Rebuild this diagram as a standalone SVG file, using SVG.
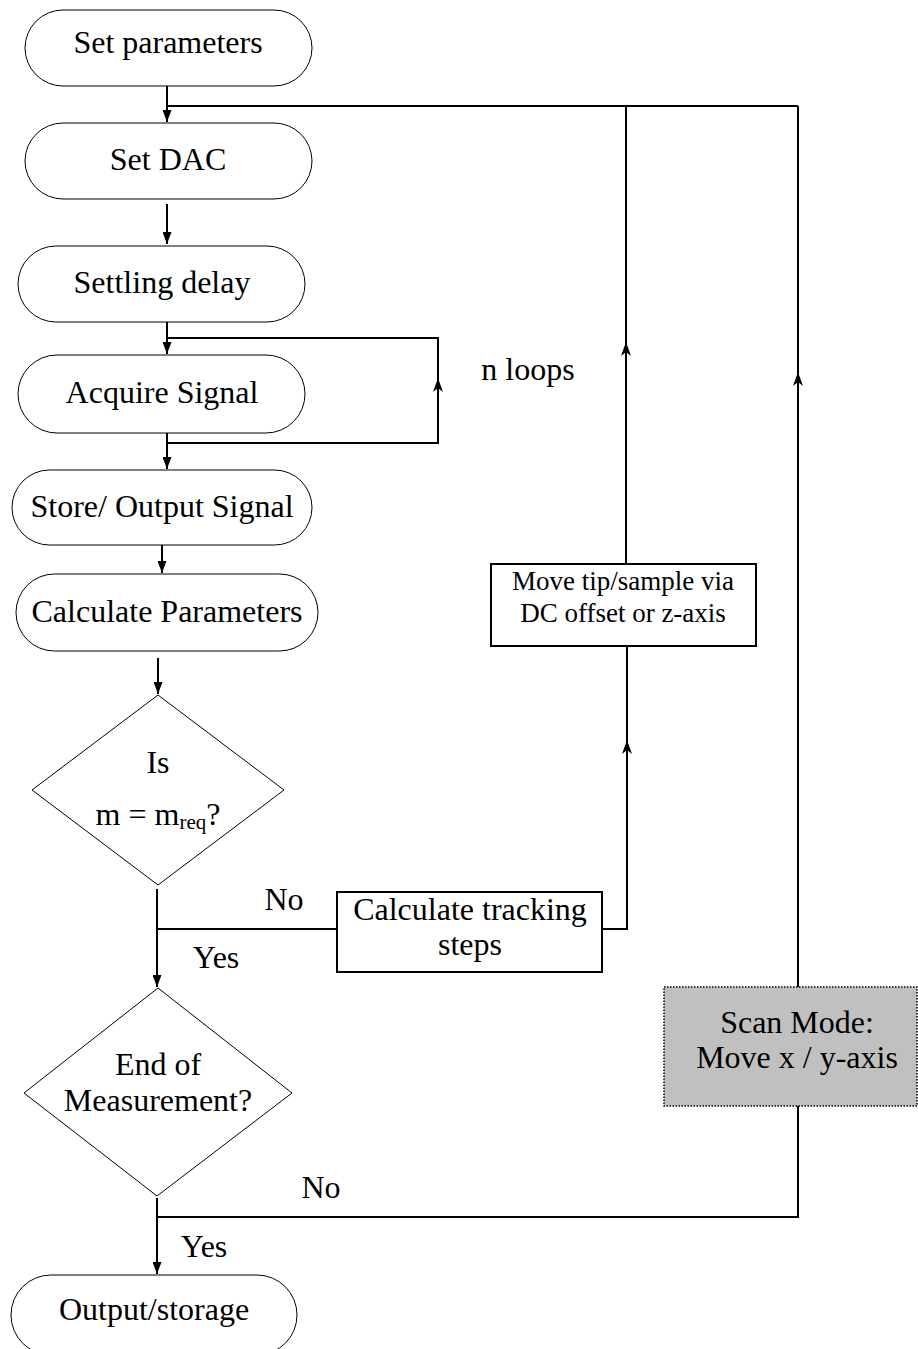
<svg xmlns="http://www.w3.org/2000/svg" width="918" height="1349" viewBox="0 0 918 1349">
<style>
text{font-family:"Liberation Serif","Times New Roman",serif;font-size:32px;fill:#000;text-anchor:middle}
.small{font-size:27px}
.term{fill:#fff;stroke:#000;stroke-width:1}
.dia{fill:#fff;stroke:#000;stroke-width:1}
.box{fill:#fff;stroke:#000;stroke-width:2}
.scan{fill:#c0c0c0;stroke:#000;stroke-width:1.5;stroke-dasharray:1.5 1.5}
.c{fill:none;stroke:#000;stroke-width:2}
.a{marker-end:url(#ah)}
.u{marker-end:url(#up)}
</style>
<defs>
<marker id="ah" markerUnits="userSpaceOnUse" viewBox="0 0 12 9" refX="12" refY="4.5" markerWidth="12" markerHeight="9" orient="auto"><path d="M0,0 L12,4.5 L0,9 z" fill="#000"/></marker>
<marker id="up" markerUnits="userSpaceOnUse" viewBox="0 0 14 10" refX="14" refY="5" markerWidth="14" markerHeight="10" orient="auto"><path d="M0,0 L14,5 L0,10 L4,5 z" fill="#000"/></marker>
</defs>
<rect width="918" height="1349" fill="#fff"/>
<g id="connectors">
<path class="c a" d="M167,86 L167,122"/>
<path class="c" d="M167,106 L798,106"/>
<path class="c a" d="M167,204 L167,244"/>
<path class="c a" d="M167,322 L167,354"/>
<path class="c" d="M438,380 L438,338 L167,338"/>
<path class="c u" d="M167,443 L438,443 L438,378"/>
<path class="c a" d="M167,433 L167,469"/>
<path class="c a" d="M162,545 L162,573"/>
<path class="c a" d="M158,658 L158,694"/>
<path class="c a" d="M157,889 L157,987"/>
<path class="c" d="M157,929 L338,929"/>
<path class="c u" d="M602,929 L627,929 L627,740"/>
<path class="c" d="M627,742 L627,646"/>
<path class="c u" d="M626,564 L626,342"/>
<path class="c" d="M626,344 L626,106"/>
<path class="c u" d="M798,988 L798,372"/>
<path class="c" d="M798,374 L798,106"/>
<path class="c a" d="M157,1198 L157,1274"/>
<path class="c" d="M157,1217 L798,1217 L798,1106"/>
</g>
<g id="set-parameters"><rect class="term" x="25" y="10" width="287" height="76" rx="38"/><text x="168" y="53">Set parameters</text></g>
<g id="set-dac"><rect class="term" x="25" y="123" width="287" height="76" rx="38"/><text x="168" y="170">Set DAC</text></g>
<g id="settling-delay"><rect class="term" x="18" y="246" width="287" height="76" rx="38"/><text x="162" y="293">Settling delay</text></g>
<g id="acquire-signal"><rect class="term" x="18" y="355" width="287" height="78" rx="39"/><text x="162" y="403">Acquire Signal</text></g>
<g id="n-loops"><text x="528" y="380">n loops</text></g>
<g id="store-output"><rect class="term" x="12" y="470" width="300" height="75" rx="37.5"/><text x="162" y="517">Store/ Output Signal</text></g>
<g id="calc-params"><rect class="term" x="16" y="574" width="302" height="77" rx="38.5"/><text x="167" y="622">Calculate Parameters</text></g>
<g id="decision-m"><polygon class="dia" points="158,695 284,790 158,885 32,790"/><text x="158" y="773">Is</text><text x="158" y="825">m = m<tspan font-size="21" dy="4">req</tspan><tspan dy="-4">?</tspan></text></g>
<g id="label-no1"><text x="284" y="910">No</text></g>
<g id="label-yes1"><text x="216" y="968">Yes</text></g>
<g id="calc-tracking"><rect class="box" x="337" y="892" width="265" height="80"/><text x="470" y="920">Calculate tracking</text><text x="470" y="955">steps</text></g>
<g id="move-tip"><rect class="box" x="491" y="564" width="265" height="82"/><text class="small" x="623" y="590">Move tip/sample via</text><text class="small" x="623" y="622">DC offset or z-axis</text></g>
<g id="decision-end"><polygon class="dia" points="158,988 292,1093 157,1196 24,1093"/><text x="158" y="1075">End of</text><text x="158" y="1111">Measurement?</text></g>
<g id="scan-mode"><rect class="scan" x="664" y="987" width="253" height="119"/><text x="797" y="1033">Scan Mode:</text><text x="797" y="1068">Move x / y-axis</text></g>
<g id="label-no2"><text x="321" y="1198">No</text></g>
<g id="label-yes2"><text x="204" y="1257">Yes</text></g>
<g id="output-storage"><rect class="term" x="11" y="1275" width="286" height="80" rx="40"/><text x="154" y="1320">Output/storage</text></g>
</svg>
